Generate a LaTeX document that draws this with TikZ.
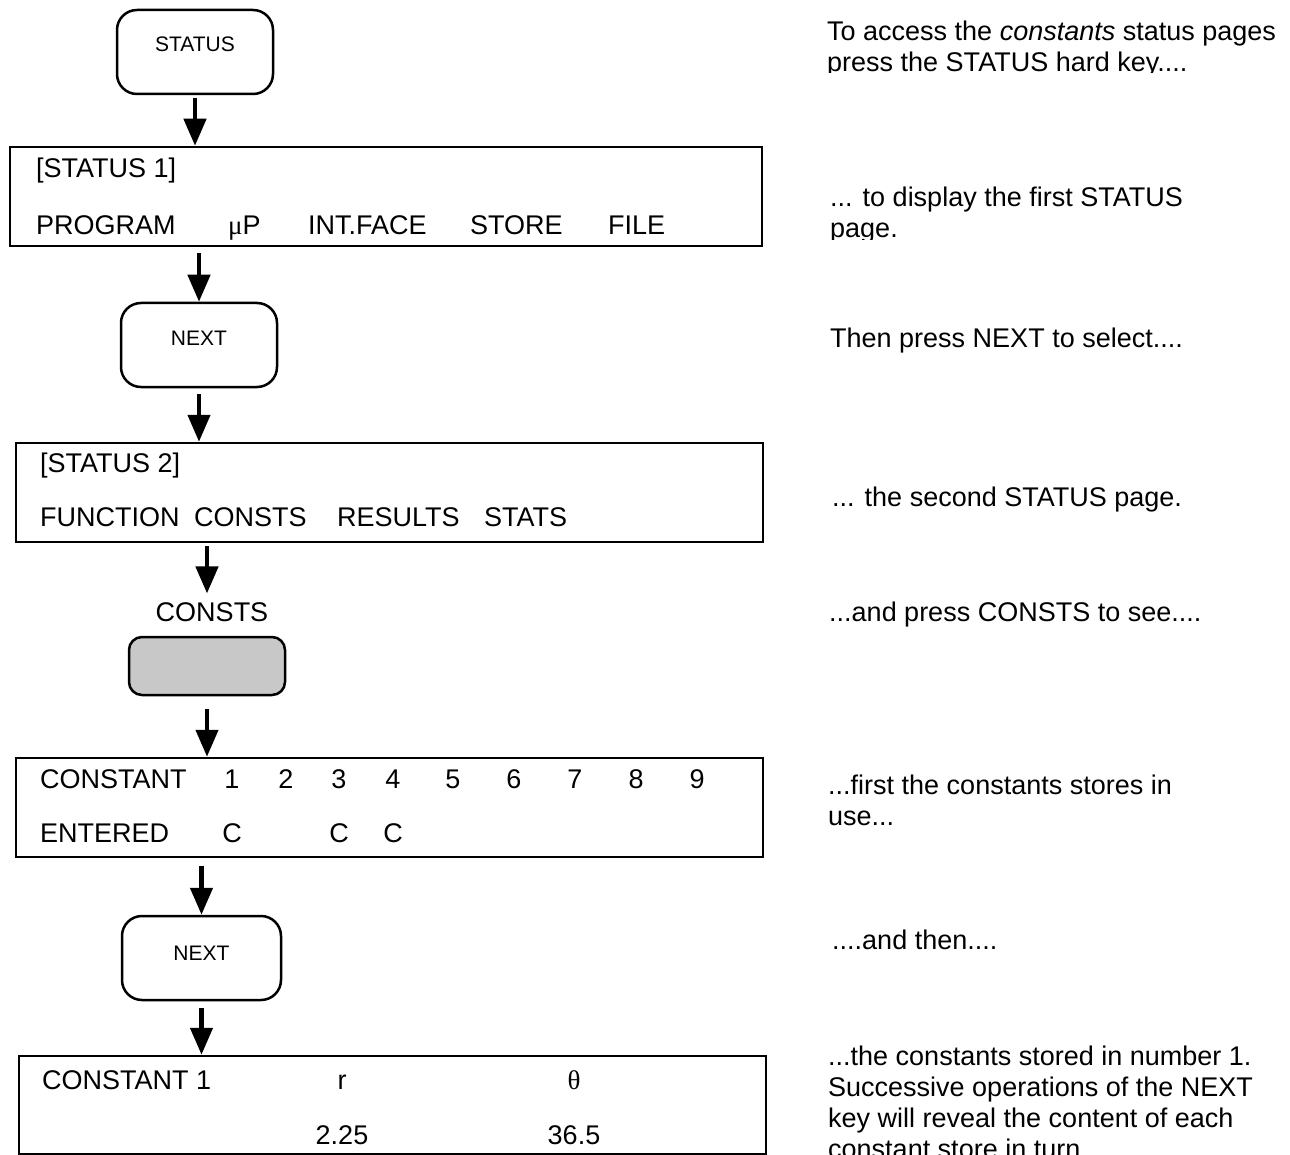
\documentclass[tikz,border=0pt]{standalone}
\usepackage{fontspec}
\setmainfont{Liberation Sans}
\newfontfamily\greekfont{Liberation Serif}
\usetikzlibrary{arrows.meta}
\definecolor{keygrey}{RGB}{200,200,200}
\begin{document}
\begin{tikzpicture}[x=1pt,y=-1pt,
  screen/.style={draw, line width=2.5pt, inner sep=0pt},
  keybox/.style={draw, line width=2.5pt, rounded corners=20pt, inner sep=0pt, minimum width=156pt, minimum height=84pt},
  arr/.style={line width=4.5pt, -{Triangle[width=22pt,length=27pt]}},
  txt/.style={font=\fontsize{27}{31}\selectfont, inner sep=0pt, anchor=base west},
  ctxt/.style={font=\fontsize{27}{31}\selectfont, inner sep=0pt, anchor=base},
  keytxt/.style={font=\fontsize{21}{24}\selectfont, inner sep=0pt},
  note/.style={font=\fontsize{27}{31}\selectfont, inner sep=0pt, anchor=base west, align=left},
]
\useasboundingbox (0,0) rectangle (1290,1155);
\fill[white] (0,0) rectangle (1290,1155);

% keys
\node[keybox] (skey) at (195,52) {};
\node[keytxt] (skeyt) at ([yshift=8]skey.center) {STATUS};
\node[keybox] (next1) at (199,345) {};
\node[keytxt] (next1t) at ([yshift=7]next1.center) {NEXT};
\node[draw, line width=2.5pt, rounded corners=13pt, fill=keygrey, minimum width=156pt, minimum height=58pt, inner sep=0pt] (grey) at (207,666) {};
\node[ctxt] (conslabel) at (212,621) {CONSTS};
\node[keybox, minimum width=159pt] (next2) at (201.5,958) {};
\node[keytxt] (next2t) at ([yshift=5]next2.center) {NEXT};

% screens
\node[screen, minimum width=752pt, minimum height=99pt] (box1) at (386,196.5) {};
\node[screen, minimum width=747pt, minimum height=99pt] (box2) at (389.5,492.5) {};
\node[screen, minimum width=747pt, minimum height=99pt] (box3) at (389.5,807.5) {};
\node[screen, minimum width=747pt, minimum height=98pt] (box4) at (392.5,1105) {};

% screen 1 text
\node[txt] (s1a) at (36,178) {[STATUS 1]};
\node[txt] (s1b) at (36,234.5) {PROGRAM};
\node[txt] (s1c) at (228,234.5) {{\greekfont μ}P};
\node[txt] (s1d) at (308,234.5) {INT.FACE};
\node[txt] (s1e) at (470,234.5) {STORE};
\node[txt] (s1f) at (608,234.5) {FILE};

% screen 2 text
\node[txt] (s2a) at (40,472.5) {[STATUS 2]};
\node[txt] (s2b) at (40,526.5) {FUNCTION};
\node[txt] (s2c) at (194,526.5) {CONSTS};
\node[txt] (s2d) at (337,526.5) {RESULTS};
\node[txt] (s2e) at (484,526.5) {STATS};

% screen 3 text
\node[txt] (s3a) at (40,788.5) {CONSTANT};
\node[ctxt] (c1) at (232,788.5) {1};
\node[ctxt] (c2) at (286,788.5) {2};
\node[ctxt] (c3) at (339,788.5) {3};
\node[ctxt] (c4) at (393,788.5) {4};
\node[ctxt] (c5) at (453,788.5) {5};
\node[ctxt] (c6) at (514,788.5) {6};
\node[ctxt] (c7) at (575,788.5) {7};
\node[ctxt] (c8) at (636,788.5) {8};
\node[ctxt] (c9) at (697,788.5) {9};
\node[txt] (s3b) at (40,842.5) {ENTERED};
\node[ctxt] (e1) at (232,842.5) {C};
\node[ctxt] (e3) at (339,842.5) {C};
\node[ctxt] (e4) at (393,842.5) {C};

% screen 4 text
\node[txt] (s4a) at (42,1089.5) {CONSTANT 1};
\node[ctxt] (s4r) at (342,1089.5) {r};
\node[ctxt] (s4t) at (574,1089.5) {{\greekfont θ}};
\node[ctxt] (s4v1) at (342,1144.5) {2.25};
\node[ctxt] (s4v2) at (574,1144.5) {36.5};

% arrows
\draw[arr] ([yshift=-3]skey.south) -- (box1.north -| skey.south);
\draw[arr] ([yshift=-6]box1.south -| next1.south) -- (next1.north);
\draw[arr] ([yshift=-6]next1.south) -- (box2.north -| next1.south);
\draw[arr] ([yshift=-3]box2.south -| grey.south) -- ([yshift=8.5]conslabel.north -| grey.south);
\draw[arr] ([yshift=-13]grey.south) -- (box3.north -| grey.south);
\draw[arr] ([yshift=-8]box3.south -| next2.south) -- (next2.north);
\draw[arr] ([yshift=-7]next2.south) -- (box4.north -| next2.south);

% notes (anchor = baseline of the last line)
\begin{scope}
\clip (800,0) rectangle (1290,72.5);
\node[note] (n1) at (827,71.5) {To access the \textit{constants} status pages\\press the STATUS hard key....};
\end{scope}
\begin{scope}
\clip (800,150) rectangle (1290,240);
\node[note] (n2) at (830,238) {... to display the first STATUS\\page.};
\end{scope}
\node[note] (n3) at (830,347.5) {Then press NEXT to select....};
\node[note] (n4) at (832,506.5) {... the second STATUS page.};
\node[note] (n5) at (829,621.5) {...and press CONSTS to see....};
\node[note] (n6) at (828,825.5) {...first the constants stores in\\use...};
\node[note] (n7) at (832,949.5) {....and then....};
\node[note] (n8) at (828,1158) {...the constants stored in number 1.\\Successive operations of the NEXT\\key will reveal the content of each\\constant store in turn.};
\end{tikzpicture}
\end{document}
